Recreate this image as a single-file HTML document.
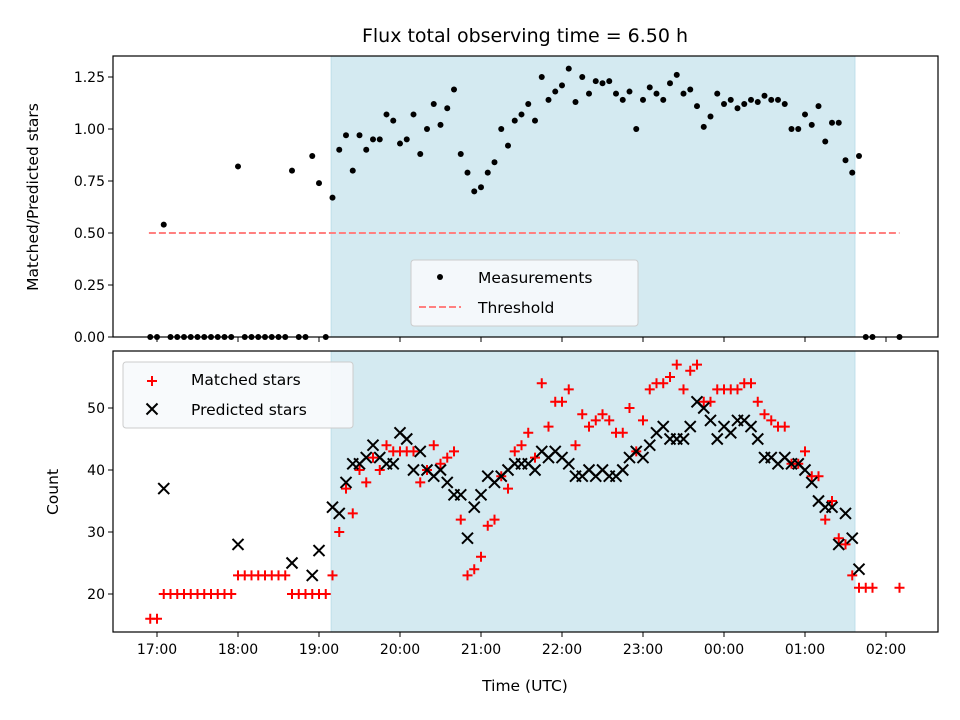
<!DOCTYPE html>
<html><head><meta charset="utf-8"><style>
body{margin:0;background:#fff;position:relative;}
svg{display:block;font-family:"DejaVu Sans","Liberation Sans",sans-serif;}
</style></head><body>
<svg id="chart" width="960" height="720" viewBox="0 0 960 720" xmlns="http://www.w3.org/2000/svg">
<rect width="960" height="720" fill="#fff"/>
<text x="525" y="42" font-size="19" text-anchor="middle">Flux total observing time = 6.50 h</text>
<g id="topPanel"></g>
<g id="botPanel"></g>
</svg>
<script>
// minutes relative to 17:00
const times = [-5,0,5,10,15,20,25,30,35,40,45,50,55,60,65,70,75,80,85,90,95,100,105,110,115,120,125,130,135,140,145,150,155,160,165,170,175,180,185,190,195,200,205,210,215,220,225,230,235,240,245,250,255,260,265,270,275,280,285,290,295,300,305,310,315,320,325,330,335,340,345,350,355,360,365,370,375,380,385,390,395,400,405,410,415,420,425,430,435,440,445,450,455,460,465,470,475,480,485,490,495,500,505,510,515,520,525,530,550];
const ratio = [0,0,0.54,0,0,0,0,0,0,0,0,0,0,0.82,0,0,0,0,0,0,0,0.80,0,0,0.87,0.74,0,0.67,0.90,0.97,0.80,0.97,0.90,0.95,0.95,1.07,1.04,0.93,0.95,1.07,0.88,1.00,1.12,1.02,1.10,1.19,0.88,0.79,0.70,0.72,0.79,0.84,1.00,0.92,1.04,1.07,1.12,1.04,1.25,1.14,1.18,1.21,1.29,1.13,1.25,1.17,1.23,1.22,1.23,1.17,1.14,1.18,1.00,1.14,1.20,1.17,1.14,1.22,1.26,1.17,1.19,1.11,1.01,1.06,1.17,1.12,1.14,1.10,1.12,1.14,1.13,1.16,1.14,1.14,1.12,1.00,1.00,1.07,1.02,1.11,0.94,1.03,1.03,0.85,0.79,0.87,0,0,0];
const matched = [16,16,20,20,20,20,20,20,20,20,20,20,20,23,23,23,23,23,23,23,23,20,20,20,20,20,20,23,30,37,33,40,38,42,40,44,43,43,43,43,38,40,44,41,42,43,32,23,24,26,31,32,39,37,43,44,46,42,54,47,51,51,53,44,49,47,48,49,48,46,46,50,43,48,53,54,54,55,57,53,56,57,51,51,53,53,53,53,54,54,51,49,48,47,47,41,41,43,39,39,32,35,29,28,23,21,21,21,21];
const predicted = [null,null,37,null,null,null,null,null,null,null,null,null,null,28,null,null,null,null,null,null,null,25,null,null,23,27,null,34,33,38,41,41,42,44,42,41,41,46,45,40,43,40,39,40,38,36,36,29,34,36,39,38,39,40,41,41,41,40,43,42,43,42,41,39,39,40,39,40,39,39,40,42,43,42,44,46,47,45,45,45,47,51,50,48,45,47,46,48,48,47,45,42,42,41,42,41,41,40,38,35,34,34,28,33,29,24,null,null,null];
const threshold = 0.5;
const thrRange = [-6, 550];
const spanRange = [129, 517];
const xTickLabels = ["17:00","18:00","19:00","20:00","21:00","22:00","23:00","00:00","01:00","02:00"];
const xTickMins = [0,60,120,180,240,300,360,420,480,540];
const topTicks = [0,0.25,0.5,0.75,1.0,1.25];
const botTicks = [20,30,40,50];

const NS="http://www.w3.org/2000/svg";
const AL=113,AR=938;
const TT=56,TB=337,BT=351,BB=632;
const xs=m=>157+m*81/60;
const yt=v=>TB-v*208;
const yb=c=>594-(c-20)*6.2;
function mk(p,tag,attrs){const e=document.createElementNS(NS,tag);for(const k in attrs)e.setAttribute(k,attrs[k]);p.appendChild(e);return e;}
const gTop=document.getElementById('topPanel'),gBot=document.getElementById('botPanel');

function panel(g,y0,y1,name){
  const s=mk(g,'rect',{x:xs(spanRange[0]),y:y0,width:xs(spanRange[1])-xs(spanRange[0]),height:y1-y0,fill:'#d4eaf1',stroke:'#bfdfea','stroke-width':1});
  
  
}
panel(gTop,TT,TB,'top');
panel(gBot,BT,BB,'bottom');

let th=mk(gTop,'line',{x1:xs(thrRange[0]),x2:xs(thrRange[1]),y1:yt(threshold),y2:yt(threshold),stroke:'#ff8080','stroke-width':2,'stroke-dasharray':'7,3'});



times.forEach((t,i)=>{
  const c=mk(gTop,'circle',{cx:xs(t),cy:yt(ratio[i]),r:3,fill:'#000'});
  
  
});
times.forEach((t,i)=>{
  if(matched[i]==null)return;
  const x=xs(t),y=yb(matched[i]);
  const p=mk(gBot,'path',{d:`M${x-5},${y}H${x+5}M${x},${y-5}V${y+5}`,stroke:'#f00','stroke-width':2,fill:'none'});
  
  
});
times.forEach((t,i)=>{
  if(predicted[i]==null)return;
  const x=xs(t),y=yb(predicted[i]);
  const p=mk(gBot,'path',{d:`M${x-5.5},${y-5.5}L${x+5.5},${y+5.5}M${x-5.5},${y+5.5}L${x+5.5},${y-5.5}`,stroke:'#000','stroke-width':2,fill:'none'});
  
  
});

[[gTop,TT,TB],[gBot,BT,BB]].forEach(([g,a,b])=>{
  const f=mk(g,'rect',{x:AL,y:a,width:AR-AL,height:b-a,fill:'none',stroke:'#000','stroke-width':1.2});
  
  
  xTickMins.forEach(m=>{mk(g,'line',{x1:xs(m),x2:xs(m),y1:b,y2:b+5,stroke:'#000','stroke-width':1});});
});
xTickMins.forEach((m,i)=>{
  const t=mk(gBot,'text',{x:xs(m),y:BB+22,'font-size':14,'text-anchor':'middle'});
  t.textContent=xTickLabels[i];
  
  
});
topTicks.forEach(v=>{
  mk(gTop,'line',{x1:AL-5,x2:AL,y1:yt(v),y2:yt(v),stroke:'#000','stroke-width':1});
  const t=mk(gTop,'text',{x:AL-8,y:yt(v)+5,'font-size':14,'text-anchor':'end'});
  t.textContent=v.toFixed(2);
  
  
});
botTicks.forEach(v=>{
  mk(gBot,'line',{x1:AL-5,x2:AL,y1:yb(v),y2:yb(v),stroke:'#000','stroke-width':1});
  const t=mk(gBot,'text',{x:AL-8,y:yb(v)+5,'font-size':14,'text-anchor':'end'});
  t.textContent=v;
  
  
});
</script>
<svg style="position:absolute;left:0;top:0" width="960" height="720">
<text transform="translate(38,197) rotate(-90)" font-size="15.5" text-anchor="middle" font-family="DejaVu Sans, Liberation Sans, sans-serif">Matched/Predicted stars</text>
<text transform="translate(58,492) rotate(-90)" font-size="15.5" text-anchor="middle" font-family="DejaVu Sans, Liberation Sans, sans-serif">Count</text>
<text x="525" y="691" font-size="15.5" text-anchor="middle" font-family="DejaVu Sans, Liberation Sans, sans-serif">Time (UTC)</text>
<g font-family="DejaVu Sans, Liberation Sans, sans-serif" font-size="15.5">
<rect x="411" y="260" width="227" height="66" rx="3" fill="#f7fafc" fill-opacity="0.9" stroke="#ccc"/>
<circle cx="440" cy="277" r="3" fill="#000"/>
<text x="478" y="283">Measurements</text>
<line x1="419" x2="461" y1="307" y2="307" stroke="#ff8080" stroke-width="2" stroke-dasharray="7,3"/>
<text x="478" y="313">Threshold</text>
</g>
<g font-family="DejaVu Sans, Liberation Sans, sans-serif" font-size="15.5">
<rect x="123" y="362" width="230" height="66" rx="3" fill="#f7fafc" fill-opacity="0.9" stroke="#ccc"/>
<path d="M147,381H157M152,376V386" stroke="#f00" stroke-width="2"/>
<text x="191" y="385">Matched stars</text>
<path d="M146.5,403.5L157.5,414.5M146.5,414.5L157.5,403.5" stroke="#000" stroke-width="2"/>
<text x="191" y="415">Predicted stars</text>
</g>
</svg>
</body></html>
